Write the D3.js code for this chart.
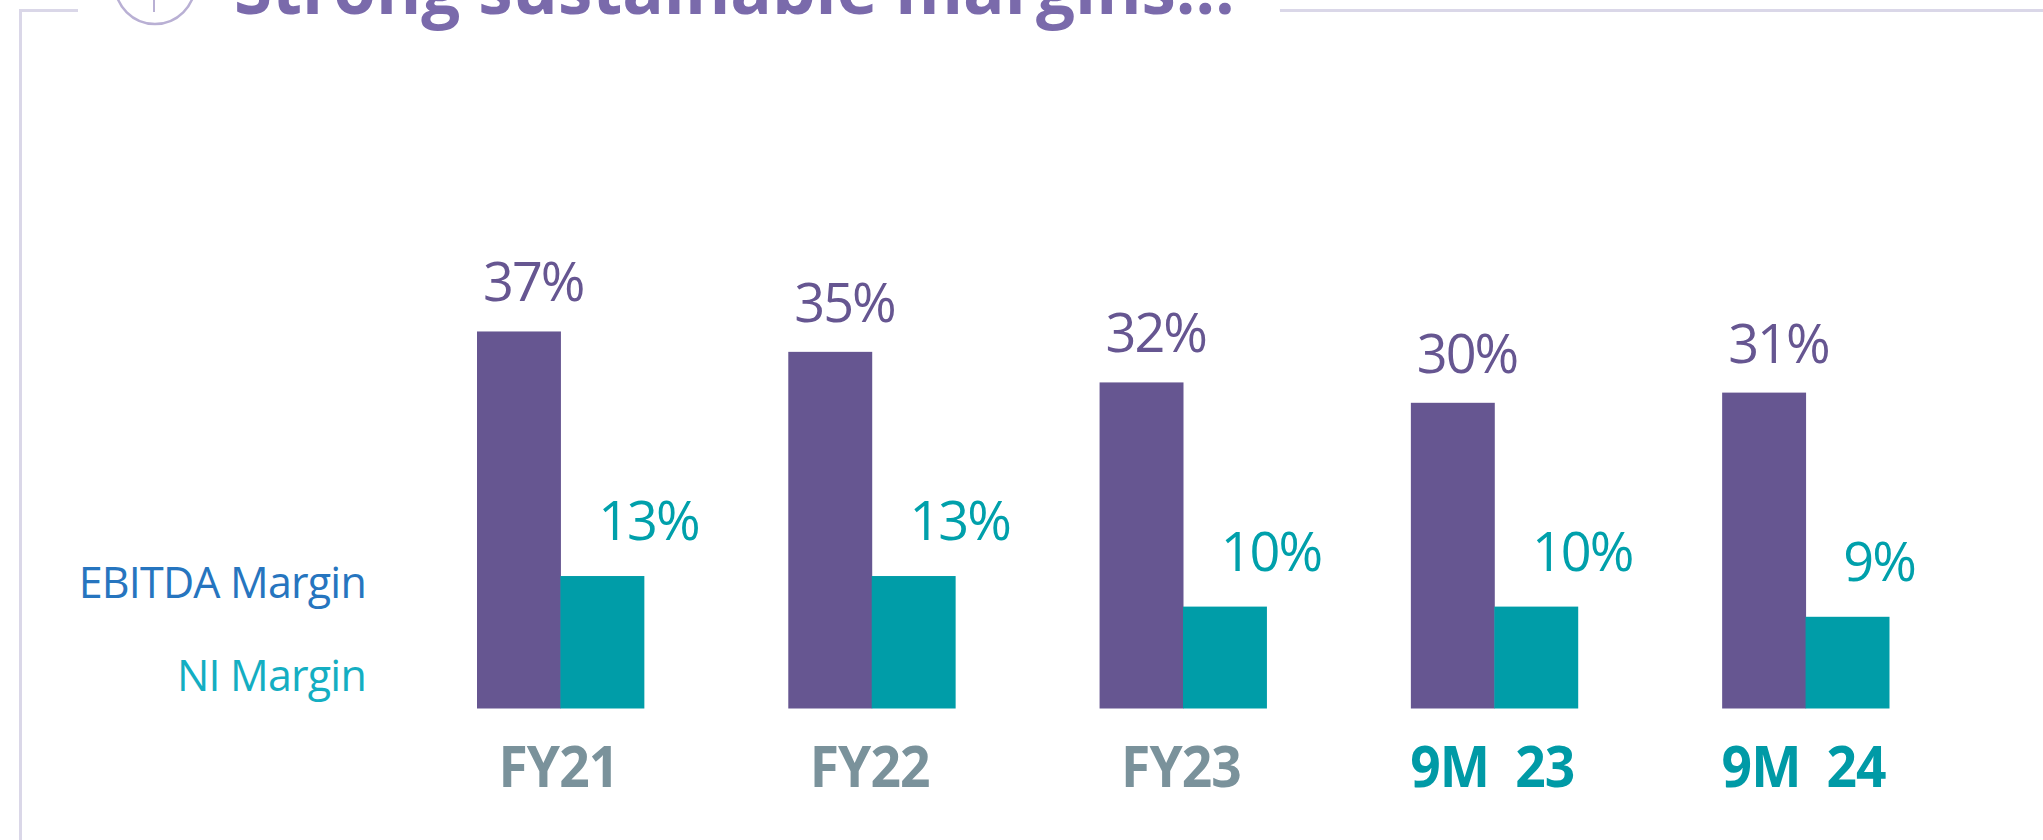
<!DOCTYPE html>
<html>
<head>
<meta charset="utf-8">
<script src="https://cdn.jsdelivr.net/npm/d3@7/dist/d3.min.js"></script>
<style>
  html, body { margin: 0; padding: 0; background: #ffffff; }
  svg { display: block; }
</style>
</head>
<body>
<script>
// ---- data ----
const categories = ["FY21", "FY22", "FY23", "9M  23", "9M  24"];
const ebitdaMargin = [37, 35, 32, 30, 31];
const niMargin = [13, 13, 10, 10, 9];
const seriesKeys = ["ebitda", "ni"];
const seriesNames = ["EBITDA Margin", "NI Margin"];
const titleText = "Strong sustainable margins…";

// ---- layout ----
const W = 2043, H = 840;
const svg = d3.select("body").append("svg").attr("width", W).attr("height", H);

const C = {
  purple: "#665691",
  teal: "#009DA8",
  purpleText: "#665691",
  tealText: "#00A0AB",
  gray: "#7A929B",
  teal9M: "#009AA6",
  legendBlue: "#2675BF",
  legendTeal: "#14AEC2",
  frame: "#DAD7E8",
  title: "#7A6AAB",
  circle: "#B9B0D4"
};

// frame
svg.append("line").attr("x1", 20).attr("x2", 78).attr("y1", 10.5).attr("y2", 10.5)
  .attr("stroke", C.frame).attr("stroke-width", 3);
svg.append("line").attr("x1", 1280).attr("x2", W).attr("y1", 10.5).attr("y2", 10.5)
  .attr("stroke", C.frame).attr("stroke-width", 3);
svg.append("line").attr("x1", 20.5).attr("x2", 20.5).attr("y1", 9).attr("y2", H)
  .attr("stroke", C.frame).attr("stroke-width", 3);

// title icon
svg.append("circle").attr("cx", 155).attr("cy", -16).attr("r", 40)
  .attr("fill", "none").attr("stroke", C.circle).attr("stroke-width", 2.5);
svg.append("line").attr("x1", 154).attr("x2", 154).attr("y1", 0).attr("y2", 12)
  .attr("stroke", C.circle).attr("stroke-width", 2);

// title
svg.append("text").attr("x", 234).attr("y", 14)
  .attr("font-family", "'Open Sans', sans-serif").attr("font-weight", 700)
  .attr("font-size", 69).attr("fill", C.title)
  .text(titleText);

// scales
const x = d3.scaleBand().domain(categories).range([477, 1889]).paddingInner(0.464).paddingOuter(0);
const xs = d3.scaleBand().domain(seriesKeys).range([0, x.bandwidth()]).padding(0);
const y = d3.scaleLinear().domain([0, 40]).range([708.5, 300.9]);

const rows = categories.map((c, i) => ({ cat: c, ebitda: ebitdaMargin[i], ni: niMargin[i] }));

const g = svg.append("g");
const groups = g.selectAll("g.grp").data(rows).join("g")
  .attr("class", "grp")
  .attr("transform", d => `translate(${x(d.cat)},0)`);

groups.selectAll("rect").data(d => seriesKeys.map(k => ({ key: k, value: d[k] }))).join("rect")
  .attr("x", d => xs(d.key))
  .attr("width", xs.bandwidth() + 0.5)
  .attr("y", d => y(d.value))
  .attr("height", d => y(0) - y(d.value))
  .attr("fill", d => d.key === "ebitda" ? C.purple : C.teal);

// value labels
groups.append("text")
  .attr("x", xs("ebitda") + 6)
  .attr("y", d => y(d.ebitda) - 30)
  .attr("font-family", "'Open Sans', sans-serif").attr("font-size", 54)
  .attr("letter-spacing", -2)
  .attr("fill", C.purpleText)
  .text(d => d.ebitda + "%");

groups.append("text")
  .attr("x", xs("ni") + xs.bandwidth() / 2 - 4)
  .attr("y", d => y(d.ni) - 36)
  .attr("font-family", "'Open Sans', sans-serif").attr("font-size", 54)
  .attr("letter-spacing", -2)
  .attr("fill", C.tealText)
  .text(d => d.ni + "%");

// category labels
groups.append("text")
  .attr("transform", d => `translate(${x.bandwidth() / 2 - 2},787) scale(0.92,1)`)
  .attr("text-anchor", "middle")
  .attr("font-family", "'Open Sans', sans-serif").attr("font-weight", 700)
  .attr("font-size", 58)
  .attr("letter-spacing", -1)
  .style("white-space", "pre")
  .attr("fill", d => d.cat.startsWith("9M") ? C.teal9M : C.gray)
  .text(d => d.cat);

// legend labels
svg.selectAll("text.legend").data(seriesNames).join("text")
  .attr("class", "legend")
  .attr("x", 366)
  .attr("y", (d, i) => 598 + i * 93)
  .attr("text-anchor", "end")
  .attr("font-family", "'Open Sans', sans-serif").attr("font-size", 43)
  .attr("letter-spacing", -0.8)
  .attr("fill", (d, i) => i === 0 ? C.legendBlue : C.legendTeal)
  .text(d => d);
</script>
</body>
</html>
